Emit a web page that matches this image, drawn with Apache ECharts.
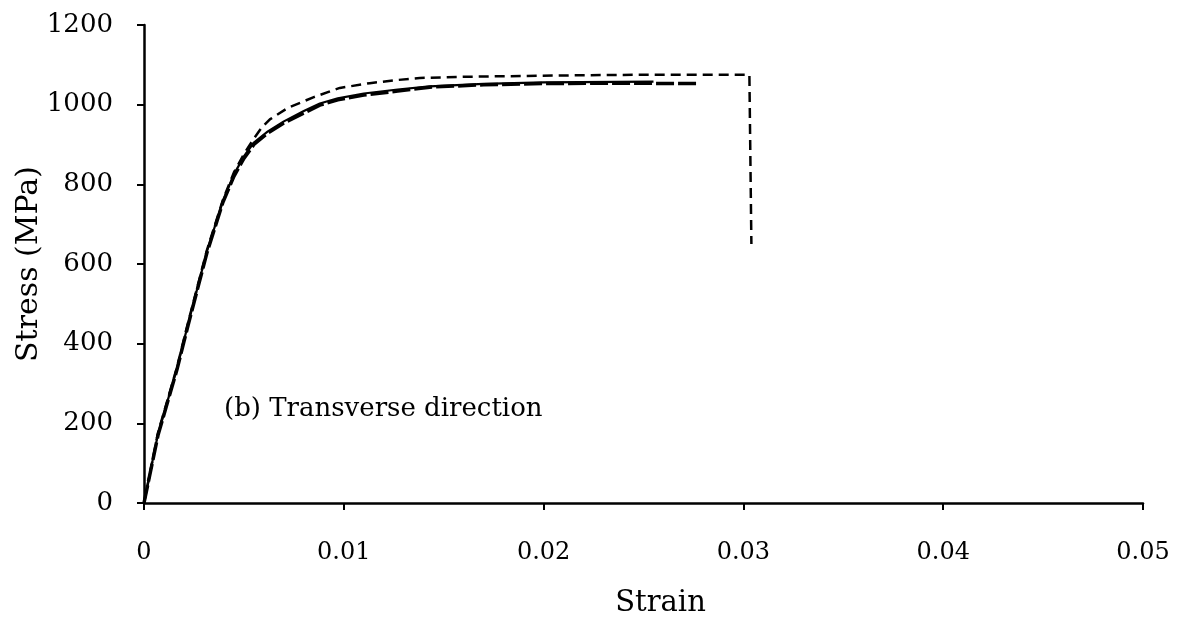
<!DOCTYPE html>
<html>
<head>
<meta charset="utf-8">
<script src="https://cdn.jsdelivr.net/npm/echarts@6/dist/echarts.min.js"></script>
<style>
  html, body { margin: 0; padding: 0; background: #fff; }
  #chart { width: 1185px; height: 624px; }
</style>
</head>
<body>
<div id="chart"></div>
<script>
// Tensile test curves, transverse direction
const strainA = [0, 0.0007, 0.00165, 0.0022, 0.00315, 0.00395, 0.0045, 0.005, 0.0055, 0.0059, 0.0063, 0.0072, 0.0085, 0.0098, 0.0113, 0.0127, 0.0138, 0.016, 0.019, 0.022, 0.025, 0.028, 0.0303, 0.0304];
const stressA = [0, 176, 341, 452, 635, 761, 830, 876, 915, 943, 963, 992, 1019, 1042, 1054, 1062, 1067, 1070, 1072, 1074, 1075, 1075, 1075, 650];

const strainB = [0, 0.0007, 0.00165, 0.0022, 0.00315, 0.00395, 0.0045, 0.005, 0.0055, 0.0062, 0.007, 0.008, 0.0088, 0.0097, 0.011, 0.0127, 0.0143, 0.017, 0.02, 0.023, 0.0277];
const stressB = [0, 170, 335, 445, 628, 755, 820, 865, 900, 929, 954, 979, 999, 1012, 1024, 1034, 1044, 1050, 1053, 1054, 1053];

const strainC = [0, 0.0007, 0.00165, 0.0022, 0.00315, 0.00395, 0.0045, 0.005, 0.0055, 0.0062, 0.007, 0.008, 0.0088, 0.0097, 0.011, 0.0127, 0.0143, 0.017, 0.02, 0.0255];
const stressC = [0, 173, 338, 448, 632, 758, 825, 870, 905, 933, 958, 984, 1003, 1016, 1028, 1038, 1046, 1052, 1056, 1058];

const xTicks = { min: 0, max: 0.05, interval: 0.01 };
const yTicks = { min: 0, max: 1200, interval: 200 };

const pairs = (xs, ys) => xs.map((x, i) => [x, ys[i]]);
const font = '"DejaVu Serif", serif';

const chart = echarts.init(document.getElementById('chart'), null, { renderer: 'canvas' });
chart.setOption({
  animation: false,
  backgroundColor: '#fff',
  grid: { left: 144, right: 42, top: 25, bottom: 121, containLabel: false, outerBoundsMode: 'none' },
  xAxis: {
    type: 'value',
    min: xTicks.min, max: xTicks.max, interval: xTicks.interval,
    name: 'Strain',
    nameLocation: 'middle',
    nameGap: 86,
    nameMoveOverlap: false,
    nameTextStyle: { fontFamily: font, fontSize: 29, color: '#000', padding: [0, 0, 0, 34] },
    axisLine: { lineStyle: { color: '#000', width: 2.5 } },
    axisTick: { show: true, length: 7, lineStyle: { color: '#000', width: 2 } },
    axisLabel: {
      fontFamily: font, fontSize: 24, color: '#000', margin: 38,
      formatter: v => (v === 0 ? '0' : String(+v.toFixed(2)))
    },
    splitLine: { show: false }
  },
  yAxis: {
    type: 'value',
    min: yTicks.min, max: yTicks.max, interval: yTicks.interval,
    name: 'Stress (MPa)',
    nameLocation: 'middle',
    nameGap: 100,
    nameMoveOverlap: false,
    nameTextStyle: { fontFamily: font, fontSize: 30, color: '#000' },
    axisLine: { show: true, lineStyle: { color: '#000', width: 2.5 } },
    axisTick: { show: true, length: 7, lineStyle: { color: '#000', width: 2 } },
    axisLabel: {
      fontFamily: font, fontSize: 26, color: '#000', margin: 31,
      formatter: v => String(v)
    },
    splitLine: { show: false }
  },
  graphic: [{
    type: 'text',
    left: 224,
    top: 396,
    style: { text: '(b) Transverse direction', font: '26px ' + font, fill: '#000' }
  }],
  series: [
    {
      type: 'line', data: pairs(strainC, stressC), showSymbol: false, z: 2,
      lineStyle: { color: '#000', width: 2.2, type: 'solid' }
    },
    {
      type: 'line', data: pairs(strainB, stressB), showSymbol: false, z: 3,
      lineStyle: { color: '#000', width: 3.5, type: [18, 4] }
    },
    {
      type: 'line', data: pairs(strainA, stressA), showSymbol: false, z: 4,
      lineStyle: { color: '#000', width: 2.5, type: [10, 6] }
    }
  ]
});
</script>
</body>
</html>
